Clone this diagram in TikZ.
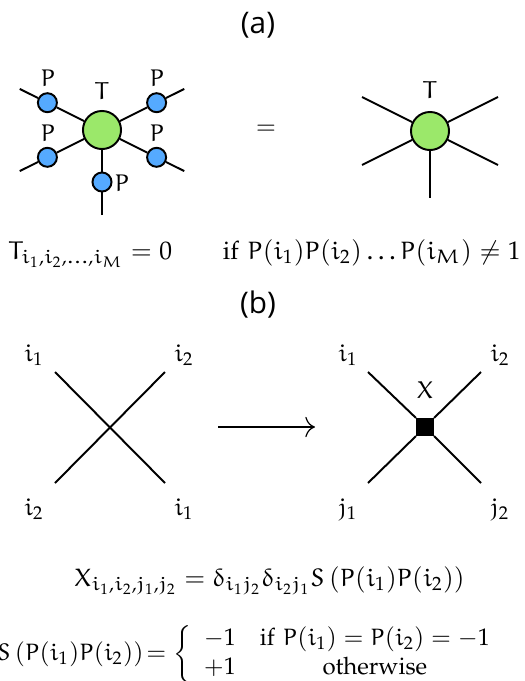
\documentclass[tikz,border=0pt]{standalone}
\usepackage[T1]{fontenc}
\usepackage{amsmath}
\usepackage{mathpazo}
\DeclareSymbolFont{letters}{U}{eur}{m}{n}
\SetSymbolFont{letters}{bold}{U}{eur}{b}{n}
\usepackage[no-math]{fontspec}
\newfontfamily\sublabelfont{Open Sans}
\newcommand\pz[1]{\text{\fontencoding{T1}\fontfamily{ppl}\selectfont #1}}
\usepackage{xcolor}
\usepackage{tikz}
\usetikzlibrary{arrows.meta}
\definecolor{greenx}{HTML}{9BE86A}
\definecolor{bluex}{HTML}{55AAFF}
\tikzset{
  leg/.style={line width=0.8pt},
  arr/.style={-{To[length=1.4mm]},line width=0.5pt},
  tnode/.style={circle,draw,line width=0.8pt,fill=greenx,minimum size=15.6pt,inner sep=0pt},
  pnode/.style={circle,draw,line width=0.8pt,fill=bluex,minimum size=7.8pt,inner sep=0pt},
  xnode/.style={rectangle,fill=black,minimum size=7pt,inner sep=0pt},
  lbl/.style={inner sep=1pt,font=\normalsize},
  eq/.style={inner sep=0pt,font=\normalsize},
  part/.style={inner sep=1pt,font=\sublabelfont\fontsize{12.2}{14}\selectfont}
}
\begin{document}
\begin{tikzpicture}[x=0.41pt,y=-0.41pt]
\useasboundingbox (0,0) rectangle (524,681);
\node[part] (pa) at (258,25) {(a)};
\node[tnode] (tl) at (102,130) {};
\node[pnode] (p1) at (47.4,102.7) {};
\node[pnode] (p2) at (156.6,102.7) {};
\node[pnode] (p3) at (47.4,157.3) {};
\node[pnode] (p4) at (156.6,157.3) {};
\node[pnode] (p5) at (102,182) {};
\coordinate (e1) at (19.7,88.9);
\coordinate (e2) at (184.3,88.9);
\coordinate (e3) at (19.7,171.1);
\coordinate (e4) at (184.3,171.1);
\coordinate (e5) at (102,215);
\draw[leg] (e1) -- (p1) -- (tl);
\draw[leg] (e2) -- (p2) -- (tl);
\draw[leg] (e3) -- (p3) -- (tl);
\draw[leg] (e4) -- (p4) -- (tl);
\draw[leg] (e5) -- (p5) -- (tl);
\node[lbl] (lt) at (102,91) {$T$};
\node[lbl] (lp1) at (48,78) {$P$};
\node[lbl] (lp2) at (157,78) {$P$};
\node[lbl] (lp3) at (48,133) {$P$};
\node[lbl] (lp4) at (157,133) {$P$};
\node[lbl] (lp5) at (122,183) {$P$};
\node[lbl] (eqs) at (266,130) {$=$};
\node[tnode] (tr) at (430,131) {};
\coordinate (f1) at (362,97);
\coordinate (f2) at (498,97);
\coordinate (f3) at (362,165);
\coordinate (f4) at (498,165);
\coordinate (f5) at (430,198);
\draw[leg] (f1) -- (tr) -- (f2);
\draw[leg] (f3) -- (tr) -- (f4);
\draw[leg] (tr) -- (f5);
\node[lbl] (rt) at (430,90) {$T$};
\node[eq,anchor=base west] (eqT) at (8,259) {\resizebox{210pt}{!}{$T_{i_1,i_2,\dots,i_M}=0\qquad \pz{if}\ P(i_1)P(i_2)\dots P(i_M)\neq 1$}};
\node[part] (pb) at (258,305) {(b)};
\coordinate (a1) at (55,372);
\coordinate (a2) at (165,372);
\coordinate (a3) at (55,483);
\coordinate (a4) at (165,483);
\draw[leg] (a1) -- (a4);
\draw[leg] (a2) -- (a3);
\node[lbl] (li1) at (34,355) {$i_1$};
\node[lbl] (li2) at (184,355) {$i_2$};
\node[lbl] (li3) at (34,509) {$i_2$};
\node[lbl] (li4) at (184,509) {$i_1$};
\coordinate (ar0) at (218,427);
\coordinate (ar1) at (315,427);
\draw[arr] (ar0) -- (ar1);
\node[xnode] (sq) at (425,427) {};
\coordinate (b1) at (368,372);
\coordinate (b2) at (481,372);
\coordinate (b3) at (368,483);
\coordinate (b4) at (481,483);
\draw[leg] (b1) -- (sq.north west);
\draw[leg] (b2) -- (sq.north east);
\draw[leg] (b3) -- (sq.south west);
\draw[leg] (b4) -- (sq.south east);
\node[lbl] (lx) at (425,390) {$X$};
\node[lbl] (ri1) at (348,355) {$i_1$};
\node[lbl] (ri2) at (500,355) {$i_2$};
\node[lbl] (rj1) at (348,509) {$j_1$};
\node[lbl] (rj2) at (500,509) {$j_2$};
\node[eq,anchor=base west] (eqX) at (74,586) {\resizebox{160pt}{!}{$X_{i_1,i_2,j_1,j_2}=\delta_{i_1j_2}\delta_{i_2j_1}S\left(P(i_1)P(i_2)\right)$}};
\node[eq,anchor=west] (eqS) at (-3,654) {\resizebox{208pt}{!}{$S\left(P(i_1)P(i_2)\right)\!=\left\{\begin{array}{lc} -1 & \pz{if}\ P(i_1)=P(i_2)=-1\\ +1 & \pz{otherwise}\end{array}\right.$}};
\end{tikzpicture}
\end{document}
